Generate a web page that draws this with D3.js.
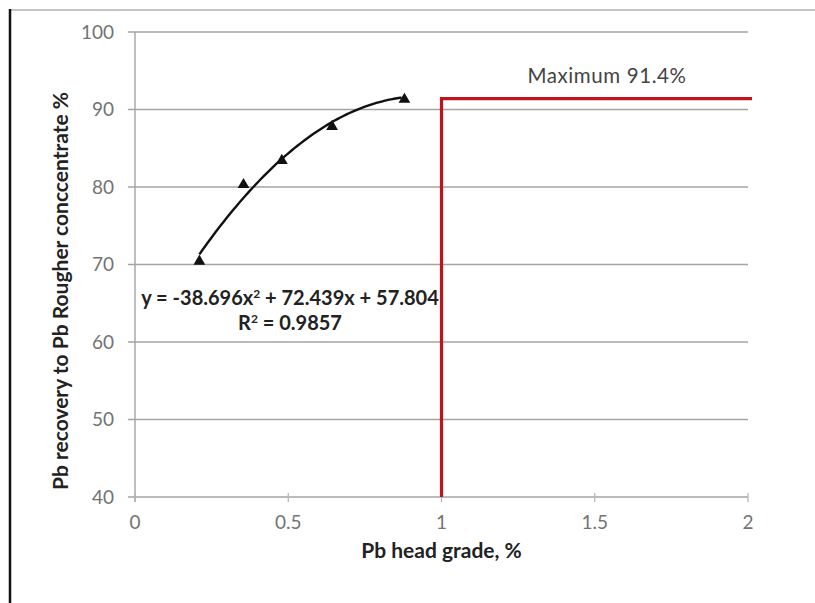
<!DOCTYPE html>
<html>
<head>
<meta charset="utf-8">
<script src="https://cdn.jsdelivr.net/npm/d3@7.9.0/dist/d3.min.js"></script>
<style>
  body { margin: 0; background: #fff; }
  svg { display: block; font-family: Lato, 'Open Sans', sans-serif; }
</style>
</head>
<body>
<svg id="chart" width="815" height="603"></svg>
<script>
// head grade (%) vs rougher recovery (%)
const headGrade = [0.21, 0.354, 0.479, 0.643, 0.879];
const recovery = [70.4, 80.3, 83.4, 87.8, 91.3];

// Excel polynomial trendline, order 2
const trendCoef = [-38.696, 72.439, 57.804];
const trendText = ['y = -38.696x', '2', ' + 72.439x + 57.804'];
const r2Text = ['R', '2', ' = 0.9857'];

const maxRecovery = 91.4;
const limitGrade = [1, 2];

const xTicks = [0, 0.5, 1, 1.5, 2];
const yTicks = [40, 50, 60, 70, 80, 90, 100];

const svg = d3.select('#chart');

const x = d3.scaleLinear().domain([0, 2]).range([135, 748]);
const y = d3.scaleLinear().domain([40, 100]).range([497, 32]);

// frame of the pasted image
svg.append('line')
  .attr('x1', 10).attr('x2', 815).attr('y1', 10).attr('y2', 10)
  .attr('stroke', '#b0b0b0').attr('stroke-width', 1.5);
svg.append('line')
  .attr('x1', 10).attr('x2', 10).attr('y1', 9).attr('y2', 603)
  .attr('stroke', '#111').attr('stroke-width', 2.5);

// grid
svg.append('g')
  .selectAll('line')
  .data(yTicks)
  .join('line')
  .attr('x1', x(0) - 7).attr('x2', x(2))
  .attr('y1', d => y(d)).attr('y2', d => y(d))
  .attr('stroke', '#a4a4a4').attr('stroke-width', 1.4);

svg.append('line')
  .attr('x1', x(0)).attr('x2', x(0)).attr('y1', y(100)).attr('y2', y(40) + 5)
  .attr('stroke', '#a4a4a4').attr('stroke-width', 1.4);

svg.append('g')
  .selectAll('line')
  .data(xTicks)
  .join('line')
  .attr('x1', d => x(d)).attr('x2', d => x(d))
  .attr('y1', y(40) - 4).attr('y2', y(40) + 5)
  .attr('stroke', '#b4b4b4').attr('stroke-width', 1.2);

// tick labels
svg.append('g')
  .selectAll('text')
  .data(yTicks)
  .join('text')
  .attr('x', x(0) - 21).attr('y', d => y(d))
  .attr('dy', '0.35em')
  .attr('text-anchor', 'end')
  .attr('font-size', 19)
  .attr('fill', '#737373')
  .text(d => d);

svg.append('g')
  .selectAll('text')
  .data(xTicks)
  .join('text')
  .attr('x', d => x(d)).attr('y', y(40) + 32)
  .attr('text-anchor', 'middle')
  .attr('font-size', 19)
  .attr('fill', '#737373')
  .text(d => d);

// axis titles
svg.append('text')
  .attr('x', x(1)).attr('y', 558)
  .attr('text-anchor', 'middle')
  .attr('font-size', 21).attr('font-weight', 'bold')
  .attr('fill', '#222')
  .text('Pb head grade, %');

svg.append('text')
  .attr('transform', 'translate(68,291) rotate(-90)')
  .attr('text-anchor', 'middle')
  .attr('font-size', 21).attr('font-weight', 'bold')
  .attr('fill', '#222')
  .text('Pb recovery to Pb Rougher conccentrate %');

// red limit lines
svg.append('path')
  .attr('d', d3.line()([
    [x(limitGrade[0]), y(40)],
    [x(limitGrade[0]), y(maxRecovery)],
    [x(limitGrade[1]) + 4, y(maxRecovery)]
  ]))
  .attr('fill', 'none')
  .attr('stroke', '#c0141c')
  .attr('stroke-width', 3.2);

svg.append('text')
  .attr('x', 607).attr('y', 83)
  .attr('text-anchor', 'middle')
  .attr('font-size', 20.5)
  .attr('letter-spacing', 0.6)
  .attr('fill', '#444')
  .text(`Maximum ${maxRecovery}%`);

// trendline over the data range
const [a, b, c] = trendCoef;
const xs = d3.range(headGrade[0], headGrade[headGrade.length - 1] + 0.0001, 0.01);
svg.append('path')
  .attr('d', d3.line()
    .x(d => x(d))
    .y(d => y(a * d * d + b * d + c))
    .curve(d3.curveBasis)(xs))
  .attr('fill', 'none')
  .attr('stroke', '#111')
  .attr('stroke-width', 2.4);

// data points
svg.append('g')
  .selectAll('path')
  .data(headGrade)
  .join('path')
  .attr('transform', (d, i) => `translate(${x(d)},${y(recovery[i])})`)
  .attr('d', d3.symbol(d3.symbolTriangle, 60))
  .attr('fill', '#111');

// equation label
function supText(parts, yPos) {
  const t = svg.append('text')
    .attr('x', 290).attr('y', yPos)
    .attr('text-anchor', 'middle')
    .attr('font-size', 20).attr('font-weight', 'bold')
    .attr('fill', '#222');
  t.append('tspan').text(parts[0]);
  t.append('tspan').attr('dy', -7).attr('font-size', 12).text(parts[1]);
  t.append('tspan').attr('dy', 7).text(parts[2]);
}
supText(trendText, 305);
supText(r2Text, 330);
</script>
</body>
</html>
